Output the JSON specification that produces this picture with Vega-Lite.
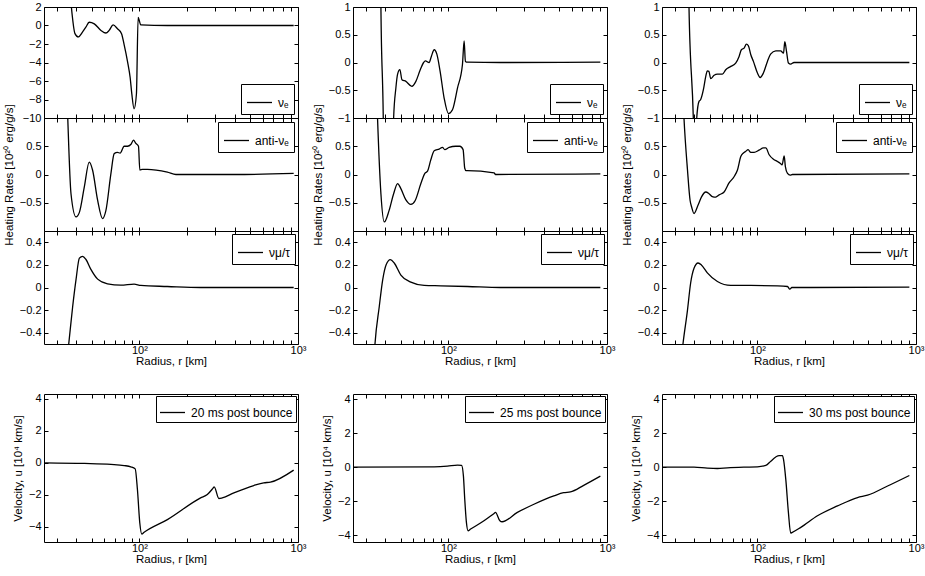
{
  "$schema": "https://vega.github.io/schema/vega-lite/v6.json",
  "background": "white",
  "padding": {"left": 2, "top": 0, "right": 0, "bottom": 0},
  "columns": 3,
  "spacing": {"row": 0, "column": 55},
  "bounds": "flush",
  "align": "each",
  "datasets": {
    "c1r1": [
      {"r": 35.5, "v": 6}, {"r": 37.0, "v": 2.4}, {"r": 39.2, "v": -0.88}, {"r": 41.1, "v": -1.24},
      {"r": 43.8, "v": -0.7}, {"r": 45.9, "v": -0.18}, {"r": 48.2, "v": 0.35}, {"r": 51.9, "v": 0.18},
      {"r": 57.2, "v": -0.53}, {"r": 61.4, "v": -0.81}, {"r": 64.4, "v": -0.53}, {"r": 68.2, "v": 0.07},
      {"r": 72.7, "v": -0.35}, {"r": 77.1, "v": -0.88}, {"r": 80.1, "v": -2.1}, {"r": 84.1, "v": -3.9},
      {"r": 87.4, "v": -5.65}, {"r": 89.5, "v": -7.4}, {"r": 92.5, "v": -9.0}, {"r": 95.7, "v": -7.4},
      {"r": 98.1, "v": 0.88}, {"r": 99.5, "v": 0.6}, {"r": 101.9, "v": 0.07}, {"r": 150, "v": 0.0},
      {"r": 939, "v": 0.0}
    ],
    "c1r2": [
      {"r": 35.0, "v": 1.3}, {"r": 35.3, "v": 1.0}, {"r": 37.0, "v": -0.34}, {"r": 39.8, "v": -0.75},
      {"r": 41.8, "v": -0.67}, {"r": 44.9, "v": -0.22}, {"r": 48.2, "v": 0.22}, {"r": 50.6, "v": 0.08},
      {"r": 54.5, "v": -0.46}, {"r": 58.5, "v": -0.78}, {"r": 61.4, "v": -0.64}, {"r": 66.1, "v": 0.02},
      {"r": 69.3, "v": 0.37}, {"r": 72.7, "v": 0.39}, {"r": 75.5, "v": 0.38}, {"r": 80.1, "v": 0.5},
      {"r": 84.1, "v": 0.5}, {"r": 88.2, "v": 0.53}, {"r": 91.7, "v": 0.61}, {"r": 94.9, "v": 0.55},
      {"r": 98.6, "v": 0.5}, {"r": 100.5, "v": 0.08}, {"r": 104.4, "v": 0.09}, {"r": 112.3, "v": 0.09},
      {"r": 150, "v": 0.04}, {"r": 170, "v": 0.0}, {"r": 400, "v": 0.0}, {"r": 939, "v": 0.02}
    ],
    "c1r3": [
      {"r": 35.3, "v": -0.58}, {"r": 35.8, "v": -0.5}, {"r": 37.9, "v": -0.17}, {"r": 39.8, "v": 0.07},
      {"r": 41.8, "v": 0.26}, {"r": 43.8, "v": 0.276}, {"r": 45.9, "v": 0.25}, {"r": 49.4, "v": 0.16},
      {"r": 54.5, "v": 0.074}, {"r": 62.9, "v": 0.033}, {"r": 76.3, "v": 0.021}, {"r": 92.5, "v": 0.03},
      {"r": 102, "v": 0.018}, {"r": 150, "v": 0.009}, {"r": 243, "v": 0.0}, {"r": 939, "v": 0.0}
    ],
    "c1r4": [
      {"r": 25.4, "v": 0}, {"r": 45, "v": -0.04}, {"r": 66.1, "v": -0.1}, {"r": 80.1, "v": -0.17},
      {"r": 88.2, "v": -0.25}, {"r": 94, "v": -0.38}, {"r": 97.1, "v": -1.67}, {"r": 100.5, "v": -3.76},
      {"r": 103.4, "v": -4.45}, {"r": 107, "v": -4.34}, {"r": 150, "v": -3.55}, {"r": 243, "v": -2.19},
      {"r": 268, "v": -1.98}, {"r": 292, "v": -1.57}, {"r": 296, "v": -1.5}, {"r": 317, "v": -2.23},
      {"r": 333, "v": -2.19}, {"r": 394, "v": -1.88}, {"r": 526, "v": -1.42}, {"r": 608, "v": -1.25},
      {"r": 670, "v": -1.21}, {"r": 939, "v": -0.46}
    ],
    "c2r1": [
      {"r": 37.2, "v": 3}, {"r": 37.5, "v": 1.0}, {"r": 38.8, "v": -1.0}, {"r": 39.5, "v": -3},
      {"r": 44.5, "v": -3}, {"r": 45.1, "v": -1.0}, {"r": 46.6, "v": -0.46}, {"r": 47.7, "v": -0.22},
      {"r": 49.4, "v": -0.13}, {"r": 50.9, "v": -0.31}, {"r": 53.9, "v": -0.34}, {"r": 58.8, "v": -0.43},
      {"r": 62.3, "v": -0.34}, {"r": 66.4, "v": -0.13}, {"r": 69.7, "v": 0.0}, {"r": 71.5, "v": 0.03},
      {"r": 75.5, "v": 0.0}, {"r": 78, "v": 0.11}, {"r": 81.3, "v": 0.23}, {"r": 84.5, "v": 0.15},
      {"r": 88.6, "v": -0.16}, {"r": 93.9, "v": -0.64}, {"r": 100, "v": -0.92}, {"r": 106, "v": -0.85},
      {"r": 114, "v": -0.46}, {"r": 122.5, "v": -0.04}, {"r": 125.6, "v": 0.39}, {"r": 127.9, "v": 0.02},
      {"r": 131.7, "v": 0.006}, {"r": 213, "v": 0.0}, {"r": 908, "v": 0.006}
    ],
    "c2r2": [
      {"r": 35.4, "v": 1.3}, {"r": 35.7, "v": 1.0}, {"r": 37.5, "v": -0.34}, {"r": 39.4, "v": -0.84},
      {"r": 42.2, "v": -0.64}, {"r": 45.1, "v": -0.34}, {"r": 47.8, "v": -0.16}, {"r": 50.1, "v": -0.25},
      {"r": 53.9, "v": -0.45}, {"r": 57.9, "v": -0.53}, {"r": 61.7, "v": -0.46}, {"r": 67, "v": -0.16},
      {"r": 71, "v": 0.02}, {"r": 73.8, "v": 0.06}, {"r": 77.4, "v": 0.26}, {"r": 81.3, "v": 0.42},
      {"r": 87.4, "v": 0.45}, {"r": 91.7, "v": 0.48}, {"r": 94.8, "v": 0.44}, {"r": 101, "v": 0.48},
      {"r": 111, "v": 0.5}, {"r": 118, "v": 0.5}, {"r": 123.7, "v": 0.44}, {"r": 126.7, "v": 0.11},
      {"r": 129, "v": 0.07}, {"r": 131.7, "v": 0.07}, {"r": 194, "v": 0.03}, {"r": 198, "v": 0.0},
      {"r": 908, "v": 0.01}
    ],
    "c2r3": [
      {"r": 34.1, "v": -0.58}, {"r": 34.4, "v": -0.5}, {"r": 36.6, "v": -0.17}, {"r": 38.5, "v": 0.07},
      {"r": 40.4, "v": 0.2}, {"r": 43, "v": 0.246}, {"r": 45.5, "v": 0.217}, {"r": 50.1, "v": 0.11},
      {"r": 57.9, "v": 0.047}, {"r": 70.3, "v": 0.018}, {"r": 89.5, "v": 0.015}, {"r": 131.7, "v": 0.009},
      {"r": 213, "v": 0.0}, {"r": 908, "v": 0.0}
    ],
    "c2r4": [
      {"r": 25.2, "v": 0}, {"r": 81.3, "v": 0.02}, {"r": 98.6, "v": 0.06}, {"r": 114, "v": 0.12},
      {"r": 121, "v": 0.1}, {"r": 124.3, "v": -0.53}, {"r": 126.7, "v": -1.89}, {"r": 129.8, "v": -3.25},
      {"r": 132.9, "v": -3.74}, {"r": 138, "v": -3.64}, {"r": 167.5, "v": -3.15}, {"r": 194, "v": -2.72},
      {"r": 198, "v": -2.66}, {"r": 211, "v": -3.15}, {"r": 218, "v": -3.21}, {"r": 272, "v": -2.66},
      {"r": 346, "v": -2.18}, {"r": 462, "v": -1.69}, {"r": 533, "v": -1.5}, {"r": 588, "v": -1.46},
      {"r": 713, "v": -1.07}, {"r": 908, "v": -0.53}
    ],
    "c3r1": [
      {"r": 36.7, "v": 3}, {"r": 37, "v": 1.0}, {"r": 39.4, "v": -1.0}, {"r": 40.2, "v": -2},
      {"r": 41, "v": -1.3}, {"r": 41.4, "v": -1.0}, {"r": 42.8, "v": -0.7}, {"r": 43.8, "v": -0.67},
      {"r": 45.6, "v": -0.49}, {"r": 47.2, "v": -0.25}, {"r": 48.3, "v": -0.15}, {"r": 49.4, "v": -0.16},
      {"r": 50.7, "v": -0.29}, {"r": 53.3, "v": -0.23}, {"r": 55.9, "v": -0.21}, {"r": 60.1, "v": -0.21},
      {"r": 63.1, "v": -0.13}, {"r": 67.9, "v": -0.07}, {"r": 72.9, "v": -0.01}, {"r": 76.6, "v": 0.11},
      {"r": 79.2, "v": 0.23}, {"r": 82.4, "v": 0.26}, {"r": 85.2, "v": 0.33}, {"r": 87.7, "v": 0.3},
      {"r": 90.8, "v": 0.14}, {"r": 94.3, "v": 0.02}, {"r": 100, "v": -0.19}, {"r": 104, "v": -0.27},
      {"r": 109, "v": -0.19}, {"r": 115.6, "v": 0.02}, {"r": 121, "v": 0.15}, {"r": 130.5, "v": 0.21},
      {"r": 140, "v": 0.21}, {"r": 146, "v": 0.17}, {"r": 148.8, "v": 0.375}, {"r": 152.5, "v": 0.2},
      {"r": 156.8, "v": -0.01}, {"r": 162, "v": -0.03}, {"r": 170, "v": 0.0}, {"r": 908, "v": 0.0}
    ],
    "c3r2": [
      {"r": 34, "v": 1.3}, {"r": 34.4, "v": 1.0}, {"r": 36.2, "v": 0.08}, {"r": 37.6, "v": -0.46},
      {"r": 38.5, "v": -0.58}, {"r": 39.8, "v": -0.69}, {"r": 42.1, "v": -0.55}, {"r": 44.3, "v": -0.4},
      {"r": 47.2, "v": -0.31}, {"r": 49.5, "v": -0.34}, {"r": 51.9, "v": -0.39}, {"r": 54.6, "v": -0.4},
      {"r": 57.3, "v": -0.36}, {"r": 61.6, "v": -0.31}, {"r": 66.2, "v": -0.15}, {"r": 71.2, "v": -0.04},
      {"r": 74.8, "v": 0.08}, {"r": 78.5, "v": 0.32}, {"r": 81.6, "v": 0.38}, {"r": 84.4, "v": 0.41},
      {"r": 87.3, "v": 0.44}, {"r": 90.8, "v": 0.39}, {"r": 95.3, "v": 0.39}, {"r": 102.4, "v": 0.43},
      {"r": 109, "v": 0.47}, {"r": 112.9, "v": 0.47}, {"r": 118.5, "v": 0.35}, {"r": 126.2, "v": 0.27},
      {"r": 133.8, "v": 0.23}, {"r": 139, "v": 0.2}, {"r": 143, "v": 0.17}, {"r": 147.4, "v": 0.33},
      {"r": 150, "v": 0.14}, {"r": 154.7, "v": 0.02}, {"r": 160.7, "v": -0.01}, {"r": 166, "v": 0.0},
      {"r": 908, "v": 0.01}
    ],
    "c3r3": [
      {"r": 33.4, "v": -0.58}, {"r": 33.9, "v": -0.5}, {"r": 36.2, "v": -0.2}, {"r": 37.9, "v": 0.04},
      {"r": 39.8, "v": 0.17}, {"r": 42.2, "v": 0.217}, {"r": 44.3, "v": 0.2}, {"r": 48.3, "v": 0.13},
      {"r": 55.9, "v": 0.053}, {"r": 67.9, "v": 0.018}, {"r": 90.8, "v": 0.018}, {"r": 133.8, "v": 0.015},
      {"r": 154.7, "v": 0.009}, {"r": 160, "v": -0.015}, {"r": 164.7, "v": 0.0}, {"r": 217, "v": 0.0},
      {"r": 908, "v": 0.003}
    ],
    "c3r4": [
      {"r": 25.1, "v": 0}, {"r": 39.8, "v": 0}, {"r": 48.3, "v": -0.06}, {"r": 55.9, "v": -0.08},
      {"r": 64.6, "v": -0.04}, {"r": 82.4, "v": 0}, {"r": 100, "v": 0.02}, {"r": 112.9, "v": 0.1},
      {"r": 121.4, "v": 0.35}, {"r": 130.5, "v": 0.6}, {"r": 137, "v": 0.68}, {"r": 143.8, "v": 0.68},
      {"r": 146, "v": 0.45}, {"r": 150.9, "v": -0.72}, {"r": 156.8, "v": -2.67}, {"r": 162, "v": -3.87},
      {"r": 166, "v": -3.83}, {"r": 187.7, "v": -3.54}, {"r": 239, "v": -2.86}, {"r": 320, "v": -2.28},
      {"r": 428, "v": -1.79}, {"r": 495, "v": -1.65}, {"r": 662, "v": -1.11}, {"r": 908, "v": -0.49}
    ],
    "none": []
  },
  "concat": [
    {
      "width": 254, "height": 111, "data": {"name": "c1r1"},
      "layer": [
        {"mark": {"type": "line", "clip": true},
         "encoding": {
          "x": {"field": "r", "type": "quantitative", "scale": {"type": "log", "domain": [25, 1000], "nice": false},
                "axis": {"values": [30, 40, 50, 60, 70, 80, 90, 100, 200, 300, 400, 500, 600, 700, 800, 900, 1000], "labels": false, "title": null}},
          "y": {"field": "v", "type": "quantitative", "scale": {"domain": [-10, 2], "nice": false, "zero": false},
                "axis": {"values": [-10, -8, -6, -4, -2, 0, 2], "format": "~f", "title": null}},
          "stroke": {"datum": "νₑ", "type": "nominal", "scale": {"range": ["black"]}, "legend": {"title": null, "orient": "bottom-right"}}}},
        {"mark": {"type": "line", "clip": true, "opacity": 0},
         "encoding": {
          "x": {"field": "r", "type": "quantitative", "scale": {"type": "log"}, "axis": {"orient": "top", "values": [30, 40, 50, 60, 70, 80, 90, 100, 200, 300, 400, 500, 600, 700, 800, 900, 1000], "labels": false, "title": null}},
          "y": {"field": "v", "type": "quantitative", "axis": {"orient": "right", "values": [-10, -8, -6, -4, -2, 0, 2], "labels": false, "title": null}}}}
      ],
      "resolve": {"axis": {"x": "independent", "y": "independent"}}
    },
    {
      "width": 254, "height": 111, "data": {"name": "c2r1"},
      "layer": [
        {"mark": {"type": "line", "clip": true},
         "encoding": {
          "x": {"field": "r", "type": "quantitative", "scale": {"type": "log", "domain": [25, 1000], "nice": false},
                "axis": {"values": [30, 40, 50, 60, 70, 80, 90, 100, 200, 300, 400, 500, 600, 700, 800, 900, 1000], "labels": false, "title": null}},
          "y": {"field": "v", "type": "quantitative", "scale": {"domain": [-1, 1], "nice": false, "zero": false},
                "axis": {"values": [-1, -0.5, 0, 0.5, 1], "format": "~f", "title": null}},
          "stroke": {"datum": "νₑ", "type": "nominal", "scale": {"range": ["black"]}, "legend": {"title": null, "orient": "bottom-right"}}}},
        {"mark": {"type": "line", "clip": true, "opacity": 0},
         "encoding": {
          "x": {"field": "r", "type": "quantitative", "scale": {"type": "log"}, "axis": {"orient": "top", "values": [30, 40, 50, 60, 70, 80, 90, 100, 200, 300, 400, 500, 600, 700, 800, 900, 1000], "labels": false, "title": null}},
          "y": {"field": "v", "type": "quantitative", "axis": {"orient": "right", "values": [-1, -0.5, 0, 0.5, 1], "labels": false, "title": null}}}}
      ],
      "resolve": {"axis": {"x": "independent", "y": "independent"}}
    },
    {
      "width": 254, "height": 111, "data": {"name": "c3r1"},
      "layer": [
        {"mark": {"type": "line", "clip": true},
         "encoding": {
          "x": {"field": "r", "type": "quantitative", "scale": {"type": "log", "domain": [25, 1000], "nice": false},
                "axis": {"values": [30, 40, 50, 60, 70, 80, 90, 100, 200, 300, 400, 500, 600, 700, 800, 900, 1000], "labels": false, "title": null}},
          "y": {"field": "v", "type": "quantitative", "scale": {"domain": [-1, 1], "nice": false, "zero": false},
                "axis": {"values": [-1, -0.5, 0, 0.5, 1], "format": "~f", "title": null}},
          "stroke": {"datum": "νₑ", "type": "nominal", "scale": {"range": ["black"]}, "legend": {"title": null, "orient": "bottom-right"}}}},
        {"mark": {"type": "line", "clip": true, "opacity": 0},
         "encoding": {
          "x": {"field": "r", "type": "quantitative", "scale": {"type": "log"}, "axis": {"orient": "top", "values": [30, 40, 50, 60, 70, 80, 90, 100, 200, 300, 400, 500, 600, 700, 800, 900, 1000], "labels": false, "title": null}},
          "y": {"field": "v", "type": "quantitative", "axis": {"orient": "right", "values": [-1, -0.5, 0, 0.5, 1], "labels": false, "title": null}}}}
      ],
      "resolve": {"axis": {"x": "independent", "y": "independent"}}
    },
    {
      "width": 254, "height": 113, "data": {"name": "c1r2"},
      "layer": [
        {"mark": {"type": "line", "clip": true},
         "encoding": {
          "x": {"field": "r", "type": "quantitative", "scale": {"type": "log", "domain": [25, 1000], "nice": false},
                "axis": {"values": [30, 40, 50, 60, 70, 80, 90, 100, 200, 300, 400, 500, 600, 700, 800, 900, 1000], "labels": false, "title": null}},
          "y": {"field": "v", "type": "quantitative", "scale": {"domain": [-1, 1], "nice": false, "zero": false},
                "axis": {"values": [-0.5, 0, 0.5], "format": "~f", "title": "Heating Rates [10²⁰ erg/g/s]"}},
          "stroke": {"datum": "anti-νₑ", "type": "nominal", "scale": {"range": ["black"]}, "legend": {"title": null, "orient": "top-right"}}}},
        {"mark": {"type": "line", "clip": true, "opacity": 0},
         "encoding": {
          "x": {"field": "r", "type": "quantitative", "scale": {"type": "log"}, "axis": {"orient": "top", "values": [30, 40, 50, 60, 70, 80, 90, 100, 200, 300, 400, 500, 600, 700, 800, 900, 1000], "labels": false, "title": null}},
          "y": {"field": "v", "type": "quantitative", "axis": {"orient": "right", "values": [-0.5, 0, 0.5], "labels": false, "title": null}}}}
      ],
      "resolve": {"axis": {"x": "independent", "y": "independent"}}
    },
    {
      "width": 254, "height": 113, "data": {"name": "c2r2"},
      "layer": [
        {"mark": {"type": "line", "clip": true},
         "encoding": {
          "x": {"field": "r", "type": "quantitative", "scale": {"type": "log", "domain": [25, 1000], "nice": false},
                "axis": {"values": [30, 40, 50, 60, 70, 80, 90, 100, 200, 300, 400, 500, 600, 700, 800, 900, 1000], "labels": false, "title": null}},
          "y": {"field": "v", "type": "quantitative", "scale": {"domain": [-1, 1], "nice": false, "zero": false},
                "axis": {"values": [-0.5, 0, 0.5], "format": "~f", "title": "Heating Rates [10²⁰ erg/g/s]"}},
          "stroke": {"datum": "anti-νₑ", "type": "nominal", "scale": {"range": ["black"]}, "legend": {"title": null, "orient": "top-right"}}}},
        {"mark": {"type": "line", "clip": true, "opacity": 0},
         "encoding": {
          "x": {"field": "r", "type": "quantitative", "scale": {"type": "log"}, "axis": {"orient": "top", "values": [30, 40, 50, 60, 70, 80, 90, 100, 200, 300, 400, 500, 600, 700, 800, 900, 1000], "labels": false, "title": null}},
          "y": {"field": "v", "type": "quantitative", "axis": {"orient": "right", "values": [-0.5, 0, 0.5], "labels": false, "title": null}}}}
      ],
      "resolve": {"axis": {"x": "independent", "y": "independent"}}
    },
    {
      "width": 254, "height": 113, "data": {"name": "c3r2"},
      "layer": [
        {"mark": {"type": "line", "clip": true},
         "encoding": {
          "x": {"field": "r", "type": "quantitative", "scale": {"type": "log", "domain": [25, 1000], "nice": false},
                "axis": {"values": [30, 40, 50, 60, 70, 80, 90, 100, 200, 300, 400, 500, 600, 700, 800, 900, 1000], "labels": false, "title": null}},
          "y": {"field": "v", "type": "quantitative", "scale": {"domain": [-1, 1], "nice": false, "zero": false},
                "axis": {"values": [-0.5, 0, 0.5], "format": "~f", "title": "Heating Rates [10²⁰ erg/g/s]"}},
          "stroke": {"datum": "anti-νₑ", "type": "nominal", "scale": {"range": ["black"]}, "legend": {"title": null, "orient": "top-right"}}}},
        {"mark": {"type": "line", "clip": true, "opacity": 0},
         "encoding": {
          "x": {"field": "r", "type": "quantitative", "scale": {"type": "log"}, "axis": {"orient": "top", "values": [30, 40, 50, 60, 70, 80, 90, 100, 200, 300, 400, 500, 600, 700, 800, 900, 1000], "labels": false, "title": null}},
          "y": {"field": "v", "type": "quantitative", "axis": {"orient": "right", "values": [-0.5, 0, 0.5], "labels": false, "title": null}}}}
      ],
      "resolve": {"axis": {"x": "independent", "y": "independent"}}
    },
    {
      "width": 254, "height": 113, "data": {"name": "c1r3"},
      "layer": [
        {"mark": {"type": "line", "clip": true},
         "encoding": {
          "x": {"field": "r", "type": "quantitative", "scale": {"type": "log", "domain": [25, 1000], "nice": false},
                "axis": {"values": [30, 40, 50, 60, 70, 80, 90, 100, 200, 300, 400, 500, 600, 700, 800, 900, 1000], "labelExpr": "datum.value == 100 ? '10²' : datum.value == 1000 ? '10³' : ''", "title": "Radius, r [km]"}},
          "y": {"field": "v", "type": "quantitative", "scale": {"domain": [-0.5, 0.5], "nice": false, "zero": false},
                "axis": {"values": [-0.4, -0.2, 0, 0.2, 0.4], "format": "~f", "title": null}},
          "stroke": {"datum": "νμ/τ", "type": "nominal", "scale": {"range": ["black"]}, "legend": {"title": null, "orient": "top-right", "offset": 3}}}},
        {"mark": {"type": "line", "clip": true, "opacity": 0},
         "encoding": {
          "x": {"field": "r", "type": "quantitative", "scale": {"type": "log"}, "axis": {"orient": "top", "values": [30, 40, 50, 60, 70, 80, 90, 100, 200, 300, 400, 500, 600, 700, 800, 900, 1000], "labels": false, "title": null}},
          "y": {"field": "v", "type": "quantitative", "axis": {"orient": "right", "values": [-0.4, -0.2, 0, 0.2, 0.4], "labels": false, "title": null}}}}
      ],
      "resolve": {"axis": {"x": "independent", "y": "independent"}}
    },
    {
      "width": 254, "height": 113, "data": {"name": "c2r3"},
      "layer": [
        {"mark": {"type": "line", "clip": true},
         "encoding": {
          "x": {"field": "r", "type": "quantitative", "scale": {"type": "log", "domain": [25, 1000], "nice": false},
                "axis": {"values": [30, 40, 50, 60, 70, 80, 90, 100, 200, 300, 400, 500, 600, 700, 800, 900, 1000], "labelExpr": "datum.value == 100 ? '10²' : datum.value == 1000 ? '10³' : ''", "title": "Radius, r [km]"}},
          "y": {"field": "v", "type": "quantitative", "scale": {"domain": [-0.5, 0.5], "nice": false, "zero": false},
                "axis": {"values": [-0.4, -0.2, 0, 0.2, 0.4], "format": "~f", "title": null}},
          "stroke": {"datum": "νμ/τ", "type": "nominal", "scale": {"range": ["black"]}, "legend": {"title": null, "orient": "top-right", "offset": 3}}}},
        {"mark": {"type": "line", "clip": true, "opacity": 0},
         "encoding": {
          "x": {"field": "r", "type": "quantitative", "scale": {"type": "log"}, "axis": {"orient": "top", "values": [30, 40, 50, 60, 70, 80, 90, 100, 200, 300, 400, 500, 600, 700, 800, 900, 1000], "labels": false, "title": null}},
          "y": {"field": "v", "type": "quantitative", "axis": {"orient": "right", "values": [-0.4, -0.2, 0, 0.2, 0.4], "labels": false, "title": null}}}}
      ],
      "resolve": {"axis": {"x": "independent", "y": "independent"}}
    },
    {
      "width": 254, "height": 113, "data": {"name": "c3r3"},
      "layer": [
        {"mark": {"type": "line", "clip": true},
         "encoding": {
          "x": {"field": "r", "type": "quantitative", "scale": {"type": "log", "domain": [25, 1000], "nice": false},
                "axis": {"values": [30, 40, 50, 60, 70, 80, 90, 100, 200, 300, 400, 500, 600, 700, 800, 900, 1000], "labelExpr": "datum.value == 100 ? '10²' : datum.value == 1000 ? '10³' : ''", "title": "Radius, r [km]"}},
          "y": {"field": "v", "type": "quantitative", "scale": {"domain": [-0.5, 0.5], "nice": false, "zero": false},
                "axis": {"values": [-0.4, -0.2, 0, 0.2, 0.4], "format": "~f", "title": null}},
          "stroke": {"datum": "νμ/τ", "type": "nominal", "scale": {"range": ["black"]}, "legend": {"title": null, "orient": "top-right", "offset": 3}}}},
        {"mark": {"type": "line", "clip": true, "opacity": 0},
         "encoding": {
          "x": {"field": "r", "type": "quantitative", "scale": {"type": "log"}, "axis": {"orient": "top", "values": [30, 40, 50, 60, 70, 80, 90, 100, 200, 300, 400, 500, 600, 700, 800, 900, 1000], "labels": false, "title": null}},
          "y": {"field": "v", "type": "quantitative", "axis": {"orient": "right", "values": [-0.4, -0.2, 0, 0.2, 0.4], "labels": false, "title": null}}}}
      ],
      "resolve": {"axis": {"x": "independent", "y": "independent"}}
    },
    {"width": 254, "height": 50, "data": {"name": "none"}, "mark": "point", "view": {"stroke": null}},
    {"width": 254, "height": 50, "data": {"name": "none"}, "mark": "point", "view": {"stroke": null}},
    {"width": 254, "height": 50, "data": {"name": "none"}, "mark": "point", "view": {"stroke": null}},
    {
      "width": 254, "height": 148, "data": {"name": "c1r4"},
      "layer": [
        {"mark": {"type": "line", "clip": true},
         "encoding": {
          "x": {"field": "r", "type": "quantitative", "scale": {"type": "log", "domain": [25, 1000], "nice": false},
                "axis": {"values": [30, 40, 50, 60, 70, 80, 90, 100, 200, 300, 400, 500, 600, 700, 800, 900, 1000], "labelExpr": "datum.value == 100 ? '10²' : datum.value == 1000 ? '10³' : ''", "title": "Radius, r [km]"}},
          "y": {"field": "v", "type": "quantitative", "scale": {"domain": [-4.95, 4.3], "nice": false, "zero": false},
                "axis": {"values": [-4, -2, 0, 2, 4], "format": "~f", "title": "Velocity, u [10⁴ km/s]"}},
          "stroke": {"datum": "20 ms post bounce", "type": "nominal", "scale": {"range": ["black"]}, "legend": {"title": null, "orient": "top-right", "offset": 2, "padding": 3}}}},
        {"mark": {"type": "line", "clip": true, "opacity": 0},
         "encoding": {
          "x": {"field": "r", "type": "quantitative", "scale": {"type": "log"}, "axis": {"orient": "top", "values": [30, 40, 50, 60, 70, 80, 90, 100, 200, 300, 400, 500, 600, 700, 800, 900, 1000], "labels": false, "title": null}},
          "y": {"field": "v", "type": "quantitative", "axis": {"orient": "right", "values": [-4, -2, 0, 2, 4], "labels": false, "title": null}}}}
      ],
      "resolve": {"axis": {"x": "independent", "y": "independent"}}
    },
    {
      "width": 254, "height": 148, "data": {"name": "c2r4"},
      "layer": [
        {"mark": {"type": "line", "clip": true},
         "encoding": {
          "x": {"field": "r", "type": "quantitative", "scale": {"type": "log", "domain": [25, 1000], "nice": false},
                "axis": {"values": [30, 40, 50, 60, 70, 80, 90, 100, 200, 300, 400, 500, 600, 700, 800, 900, 1000], "labelExpr": "datum.value == 100 ? '10²' : datum.value == 1000 ? '10³' : ''", "title": "Radius, r [km]"}},
          "y": {"field": "v", "type": "quantitative", "scale": {"domain": [-4.4, 4.3], "nice": false, "zero": false},
                "axis": {"values": [-4, -2, 0, 2, 4], "format": "~f", "title": "Velocity, u [10⁴ km/s]"}},
          "stroke": {"datum": "25 ms post bounce", "type": "nominal", "scale": {"range": ["black"]}, "legend": {"title": null, "orient": "top-right", "offset": 2, "padding": 3}}}},
        {"mark": {"type": "line", "clip": true, "opacity": 0},
         "encoding": {
          "x": {"field": "r", "type": "quantitative", "scale": {"type": "log"}, "axis": {"orient": "top", "values": [30, 40, 50, 60, 70, 80, 90, 100, 200, 300, 400, 500, 600, 700, 800, 900, 1000], "labels": false, "title": null}},
          "y": {"field": "v", "type": "quantitative", "axis": {"orient": "right", "values": [-4, -2, 0, 2, 4], "labels": false, "title": null}}}}
      ],
      "resolve": {"axis": {"x": "independent", "y": "independent"}}
    },
    {
      "width": 254, "height": 148, "data": {"name": "c3r4"},
      "layer": [
        {"mark": {"type": "line", "clip": true},
         "encoding": {
          "x": {"field": "r", "type": "quantitative", "scale": {"type": "log", "domain": [25, 1000], "nice": false},
                "axis": {"values": [30, 40, 50, 60, 70, 80, 90, 100, 200, 300, 400, 500, 600, 700, 800, 900, 1000], "labelExpr": "datum.value == 100 ? '10²' : datum.value == 1000 ? '10³' : ''", "title": "Radius, r [km]"}},
          "y": {"field": "v", "type": "quantitative", "scale": {"domain": [-4.4, 4.3], "nice": false, "zero": false},
                "axis": {"values": [-4, -2, 0, 2, 4], "format": "~f", "title": "Velocity, u [10⁴ km/s]"}},
          "stroke": {"datum": "30 ms post bounce", "type": "nominal", "scale": {"range": ["black"]}, "legend": {"title": null, "orient": "top-right", "offset": 2, "padding": 3}}}},
        {"mark": {"type": "line", "clip": true, "opacity": 0},
         "encoding": {
          "x": {"field": "r", "type": "quantitative", "scale": {"type": "log"}, "axis": {"orient": "top", "values": [30, 40, 50, 60, 70, 80, 90, 100, 200, 300, 400, 500, 600, 700, 800, 900, 1000], "labels": false, "title": null}},
          "y": {"field": "v", "type": "quantitative", "axis": {"orient": "right", "values": [-4, -2, 0, 2, 4], "labels": false, "title": null}}}}
      ],
      "resolve": {"axis": {"x": "independent", "y": "independent"}}
    }
  ],
  "resolve": {
    "scale": {"stroke": "independent", "x": "independent", "y": "independent"},
    "legend": {"stroke": "independent"}
  },
  "config": {
    "font": "Liberation Sans",
    "view": {"stroke": "black", "strokeWidth": 1},
    "line": {"strokeWidth": 1.3, "interpolate": "monotone"},
    "axis": {
      "grid": false, "domain": false, "ticks": true, "tickSize": -4, "tickColor": "black", "tickWidth": 1,
      "labelFont": "Liberation Sans", "labelFontSize": 11, "labelColor": "black", "labelPadding": 7,
      "labelFlush": false, "labelOverlap": false,
      "titleFont": "Liberation Sans", "titleFontSize": 11.5, "titleFontWeight": "normal", "titleColor": "black", "titlePadding": 5
    },
    "axisX": {"labelPadding": 4, "titlePadding": 0},
    "legend": {
      "offset": 4, "strokeColor": "black", "fillColor": "white", "padding": 5, "cornerRadius": 0,
      "symbolType": "stroke", "symbolSize": 625, "symbolStrokeWidth": 1.2, "symbolStrokeColor": "black",
      "labelFont": "Liberation Sans", "labelFontSize": 12, "labelColor": "black", "labelOffset": 5
    }
  }
}
